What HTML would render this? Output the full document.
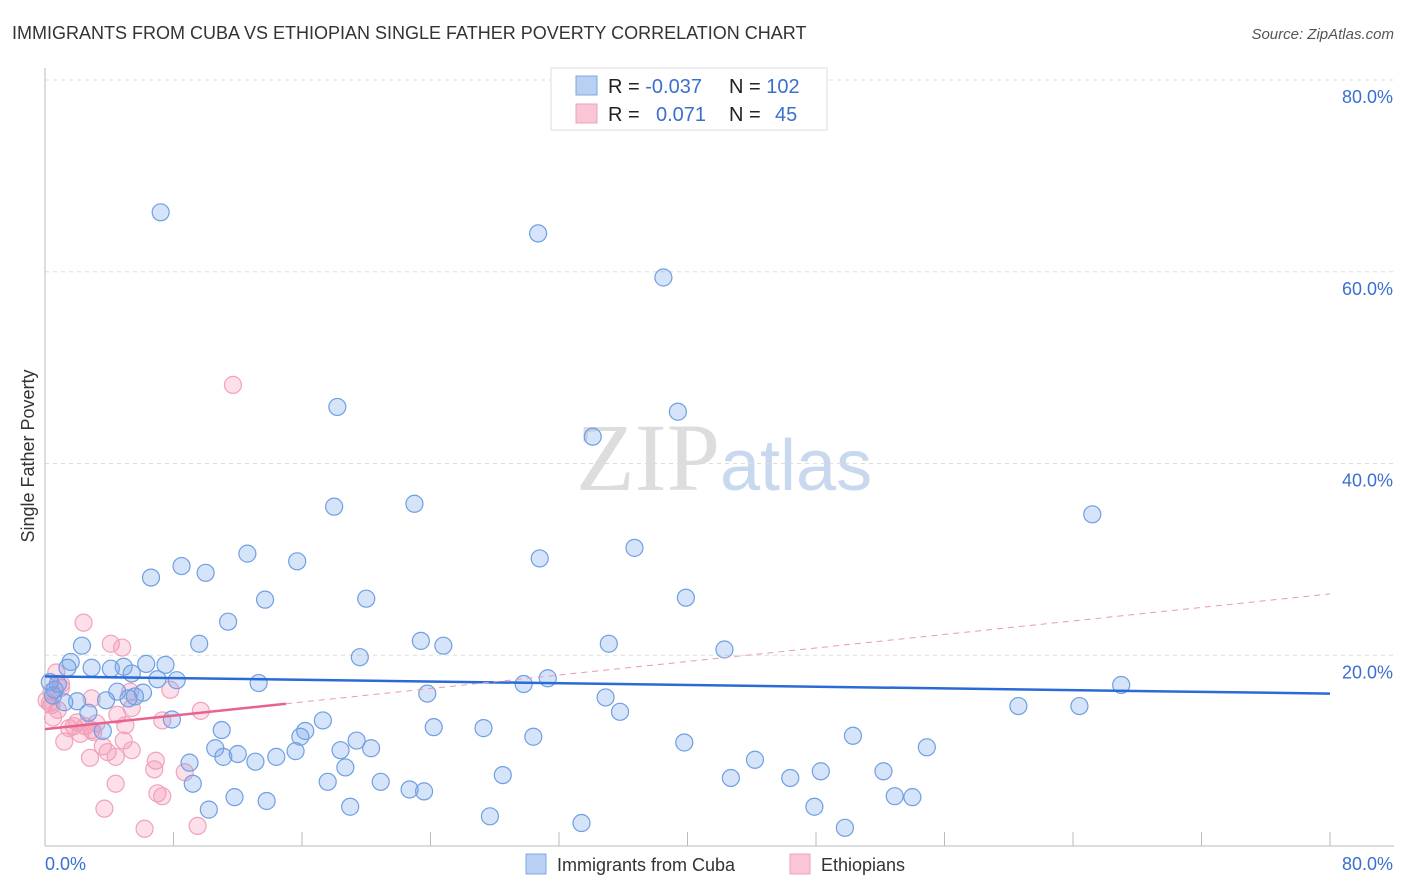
<!DOCTYPE html>
<html><head><meta charset="utf-8"><style>
body{margin:0;background:#fff;font-family:"Liberation Sans",sans-serif;}
svg{display:block}
</style></head><body>
<svg id="chart" width="1406" height="892" xmlns="http://www.w3.org/2000/svg">
<text x="12" y="39" font-size="18" fill="#333">IMMIGRANTS FROM CUBA VS ETHIOPIAN SINGLE FATHER POVERTY CORRELATION CHART</text>
<text x="1394" y="39" font-size="15" fill="#555" font-style="italic" text-anchor="end">Source: ZipAtlas.com</text>
<text x="720" y="490" font-size="96" font-family="Liberation Serif,serif" fill="#ddd" text-anchor="end">ZIP</text>
<text x="720" y="490" font-size="72" fill="#c8d8ef">atlas</text>
<g id="grid"></g>
<g id="axes"></g>
<g id="pts"></g>
<g id="trend"></g>
<text transform="translate(34,456) rotate(-90)" font-size="18" fill="#333" text-anchor="middle">Single Father Poverty</text>
<g>
<rect x="551" y="68" width="276" height="62" fill="#fff" stroke="#ddd"/>
<rect x="576" y="76" width="21" height="19" fill="#b8d0f2" stroke="#7da7e3"/>
<rect x="576" y="104" width="21" height="19" fill="#f8c6d4" stroke="#eea3bb"/>
<text x="608" y="93" font-size="20" fill="#222">R = <tspan fill="#3a6fd0">-0.037</tspan></text>
<text x="729" y="93" font-size="20" fill="#222">N = <tspan fill="#3a6fd0">102</tspan></text>
<text x="608" y="121" font-size="20" fill="#222">R = <tspan fill="#3a6fd0" x="656">0.071</tspan></text>
<text x="729" y="121" font-size="20" fill="#222">N = <tspan fill="#3a6fd0" x="775">45</tspan></text>
</g>
<g>
<rect x="526" y="854" width="20" height="20" fill="#b8d0f2" stroke="#7da7e3"/>
<text x="557" y="871" font-size="18" fill="#333">Immigrants from Cuba</text>
<rect x="790" y="854" width="20" height="20" fill="#f8c6d4" stroke="#eea3bb"/>
<text x="821" y="871" font-size="18" fill="#333">Ethiopians</text>
</g>
</svg>
<script>
const yTicks=[20,40,60,80];
const yTickLabels=["20.0%","40.0%","60.0%","80.0%"];
const xTicks=[0,8,16,24,32,40,48,56,64,72,80];
const cubaX=[7.2,30.7,38.5,18.2,39.4,34.1,65.2,18.0,23.0,12.6,15.7,30.8,36.7,8.5,10.0,6.6,13.7,20.0,39.9,11.4,2.3,9.6,23.4,24.8,35.1,42.3,19.6,1.6,1.4,2.9,4.9,4.1,6.3,7.5,5.4,8.2,7.0,13.3,29.8,31.3,67.0,0.8,0.6,4.5,6.1,5.6,5.2,3.8,2.0,1.2,23.8,34.9,35.8,60.6,64.4,7.9,2.7,17.3,24.2,27.3,11.0,3.6,16.2,15.9,19.4,30.4,50.3,39.8,10.6,18.4,20.3,15.6,54.9,12.0,11.1,14.4,13.1,9.0,44.2,18.7,48.3,52.2,28.5,42.7,46.4,9.2,17.6,20.9,22.7,23.6,11.8,13.8,52.9,54.0,10.2,19.0,47.9,27.7,33.4,49.8,0.3,0.5];
const cubaY=[66.2,64.0,59.4,45.9,45.4,42.8,34.7,35.5,35.8,30.6,29.8,30.1,31.2,29.3,28.6,28.1,25.8,25.9,26.0,23.5,21.0,21.2,21.5,21.0,21.2,20.6,19.8,19.3,18.7,18.7,18.8,18.6,19.1,19.0,18.1,17.4,17.5,17.1,17.0,17.6,16.9,17.0,16.4,16.2,16.1,15.7,15.5,15.3,15.2,15.1,16.0,15.6,14.1,14.7,14.7,13.3,14.0,13.2,12.5,12.4,12.2,12.1,12.1,11.5,11.1,11.5,11.6,10.9,10.3,10.1,10.3,10.0,10.4,9.7,9.4,9.4,8.9,8.8,9.1,8.3,7.9,7.9,7.5,7.2,7.2,6.6,6.8,6.8,6.0,5.8,5.2,4.8,5.3,5.2,3.9,4.2,4.2,3.2,2.5,2.0,17.2,15.8];
const ethX=[11.7,2.4,4.1,4.8,0.7,1.0,0.4,2.9,7.8,5.3,0.4,5.4,9.7,4.5,0.5,7.3,3.2,1.8,2.5,5.0,2.9,2.2,1.2,4.9,3.6,5.4,3.9,4.4,2.8,6.9,6.8,8.7,4.4,7.0,7.3,3.7,6.2,9.5,0.1,0.8,1.5,3.0,0.3,2.0,1.0];
const ethY=[48.2,23.4,21.2,20.8,18.2,16.6,16.2,15.5,16.4,16.2,14.8,14.5,14.2,13.8,13.5,13.2,12.9,12.6,12.6,12.7,12.2,11.8,11.0,11.1,10.5,10.1,9.9,9.4,9.3,9.0,8.1,7.8,6.6,5.6,5.3,4.0,1.9,2.2,15.3,14.3,12.4,12.0,15.0,13.0,17.0];
const cubaTrend=[17.8,16.0];
const ethTrend=[12.3,26.4];
const ethSolidEnd=15;
const NS="http://www.w3.org/2000/svg";
const X0=45,X1=1330,Y0=847,Y1=80;
const sx=v=>X0+(X1-X0)*v/80, sy=v=>Y0-(Y0-Y1)*v/80;
function mk(tag,attrs,parent){const e=document.createElementNS(NS,tag);for(const k in attrs)e.setAttribute(k,attrs[k]);parent.appendChild(e);return e;}
const grid=document.getElementById('grid'),axes=document.getElementById('axes'),pts=document.getElementById('pts'),tr=document.getElementById('trend');
yTicks.forEach((t,i)=>{
 const l=mk('line',{x1:X0,x2:1394,y1:sy(t),y2:sy(t),stroke:'#ddd','stroke-dasharray':'4,4'},grid);
 
 
 const tx=mk('text',{x:1393,y:sy(t)+23,'font-size':18,fill:'#3a6fd0','text-anchor':'end'},grid);
 tx.textContent=yTickLabels[i];
 
 
});
const ax=mk('line',{x1:X0,x2:X0,y1:68,y2:846,stroke:'#bbb'},axes);


const bx=mk('line',{x1:X0,x2:1394,y1:846,y2:846,stroke:'#bbb'},axes);


xTicks.forEach(t=>{
 const l=mk('line',{x1:sx(t),x2:sx(t),y1:832,y2:846,stroke:'#bbb'},axes);
 
 
});
const xl0=mk('text',{x:45,y:870,'font-size':18,fill:'#3a6fd0'},axes);xl0.textContent='0.0%';


const xl1=mk('text',{x:1393,y:870,'font-size':18,fill:'#3a6fd0','text-anchor':'end'},axes);xl1.textContent='80.0%';


ethX.forEach((x,i)=>{
 const c=mk('circle',{cx:sx(x),cy:sy(ethY[i]),r:8.5,fill:'rgba(244,150,178,0.3)',stroke:'#f0a3ba','stroke-width':1.2},pts);
 
 
});
cubaX.forEach((x,i)=>{
 const c=mk('circle',{cx:sx(x),cy:sy(cubaY[i]),r:8.5,fill:'rgba(120,165,235,0.3)',stroke:'#6f9fe2','stroke-width':1.2},pts);
 
 
});
const ct=mk('line',{x1:sx(0),y1:sy(cubaTrend[0]),x2:sx(80),y2:sy(cubaTrend[1]),stroke:'#2a6ad6','stroke-width':2.5},tr);


const eAt=x=>ethTrend[0]+(ethTrend[1]-ethTrend[0])*x/80;
const ed=mk('line',{x1:sx(ethSolidEnd),y1:sy(eAt(ethSolidEnd)),x2:sx(80),y2:sy(ethTrend[1]),stroke:'#e89ab2','stroke-width':1,'stroke-dasharray':'6,5'},tr);


const es=mk('line',{x1:sx(0),y1:sy(ethTrend[0]),x2:sx(ethSolidEnd),y2:sy(eAt(ethSolidEnd)),stroke:'#e8628d','stroke-width':2.5},tr);


</script>
</body></html>
